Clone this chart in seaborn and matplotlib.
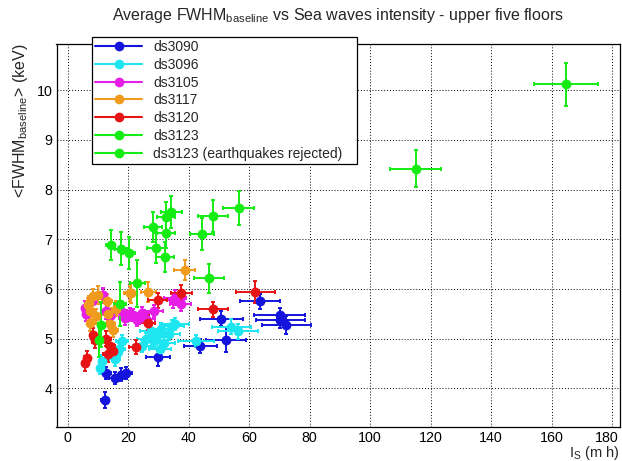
import numpy as np
import pandas as pd
import matplotlib
matplotlib.use("Agg")
import matplotlib.pyplot as plt
import matplotlib.transforms as mtransforms
from matplotlib.lines import Line2D
from matplotlib.ticker import MultipleLocator
import seaborn as sns

# ---------------- data ----------------
labels = ["ds3090", "ds3096", "ds3105", "ds3117", "ds3120", "ds3123",
          "ds3123 (earthquakes rejected)"]
colors = ["#1414dc", "#1ee6f0", "#e61ee6", "#f09a1e", "#e61414", "#14ec14", "#14ec14"]

ds3090_x = [12.2, 12.8, 15.5, 17.7, 19.4, 29.9, 43.9, 50.8, 52.3, 63.6, 70.1, 70.3, 72.3]
ds3090_y = [3.76, 4.30, 4.21, 4.27, 4.30, 4.63, 4.85, 5.40, 4.98, 5.75, 5.47, 5.37, 5.28]
ds3090_xerr = [1.2, 1.5, 1.8, 2.0, 2.0, 4.0, 5.5, 7.0, 6.7, 6.5, 8.5, 8.0, 8.0]
ds3090_yerr = [0.16, 0.12, 0.12, 0.13, 0.12, 0.18, 0.15, 0.15, 0.25, 0.15, 0.15, 0.15, 0.18]

ds3096_x = [10.8, 11.5, 15.5, 16.3, 16.8, 18.0, 24.5, 26.0, 27.5, 28.5, 29.5, 31.0,
            32.0, 33.5, 34.5, 30.5, 35.5, 42.5, 54.1, 56.3]
ds3096_y = [4.40, 4.55, 4.58, 4.70, 4.80, 4.95, 4.85, 5.00, 5.15, 4.95, 5.05, 5.20,
            4.92, 5.10, 5.25, 4.80, 5.30, 4.96, 5.24, 5.15]
ds3096_xerr = [1.2, 1.2, 1.8, 1.8, 2.0, 2.0, 3.0, 3.0, 3.5, 3.5, 3.5, 3.5,
               3.5, 3.5, 4.0, 3.5, 4.5, 6.0, 6.5, 6.5]
ds3096_yerr = [0.12, 0.12, 0.13, 0.13, 0.12, 0.12, 0.12, 0.12, 0.12, 0.12, 0.12, 0.12,
               0.12, 0.12, 0.12, 0.12, 0.12, 0.12, 0.15, 0.15]

ds3105_x = [5.6, 6.2, 8.0, 11.6, 12.5, 14.0, 17.5, 19.0, 20.5, 21.6, 23.0, 24.5,
            26.0, 28.5, 34.8, 37.4, 35.5]
ds3105_y = [5.61, 5.50, 5.75, 5.87, 5.55, 5.45, 5.55, 5.42, 5.50, 5.47, 5.38, 5.52,
            5.40, 5.55, 5.77, 5.70, 5.82]
ds3105_xerr = [0.8, 0.8, 1.0, 1.2, 1.3, 1.5, 2.0, 2.0, 2.0, 2.2, 2.5, 2.5,
               3.0, 3.0, 3.5, 3.5, 3.5]
ds3105_yerr = [0.15, 0.15, 0.15, 0.15, 0.15, 0.15, 0.15, 0.15, 0.12, 0.12, 0.12, 0.12,
               0.12, 0.12, 0.15, 0.15, 0.15]

ds3117_x = [6.7, 7.0, 7.3, 8.5, 10.0, 9.5, 13.3, 14.0, 15.0, 16.0, 20.7, 21.0,
            26.7, 38.7, 13.0, 7.5]
ds3117_y = [5.67, 5.71, 5.31, 5.85, 5.88, 5.45, 5.50, 5.30, 5.18, 5.60, 5.91, 5.92,
            5.93, 6.38, 5.75, 5.55]
ds3117_xerr = [0.8, 0.8, 0.8, 1.0, 1.2, 1.0, 1.5, 1.5, 1.5, 1.8, 2.0, 2.0,
               2.5, 3.5, 1.5, 0.8]
ds3117_yerr = [0.15, 0.15, 0.15, 0.15, 0.18, 0.15, 0.15, 0.15, 0.15, 0.15, 0.15, 0.2,
               0.2, 0.2, 0.15, 0.15]

ds3120_x = [5.6, 6.5, 8.4, 8.9, 12.8, 13.3, 15.0, 14.0, 22.7, 26.5, 29.7, 37.5, 48.0, 62.0]
ds3120_y = [4.50, 4.60, 5.07, 4.97, 5.00, 4.68, 4.75, 4.85, 4.83, 5.32, 5.77, 5.92, 5.59, 5.94]
ds3120_xerr = [0.8, 0.8, 1.0, 1.0, 1.5, 1.5, 1.5, 1.5, 2.5, 2.5, 3.0, 3.5, 5.0, 6.5]
ds3120_yerr = [0.15, 0.15, 0.15, 0.15, 0.15, 0.15, 0.15, 0.15, 0.15, 0.15, 0.15, 0.15, 0.15, 0.22]

ds3123_x = [14.2, 17.7, 20.2, 28.2, 29.3, 32.1, 32.4, 32.4, 34.3, 44.5, 46.6, 48.0,
            56.5, 115.0, 164.7]
ds3123_y = [6.88, 6.81, 6.73, 7.25, 6.83, 6.65, 7.12, 7.45, 7.55, 7.10, 6.21, 7.46,
            7.63, 8.42, 10.12]
ds3123_xerr = [1.5, 2.0, 2.0, 3.0, 3.0, 3.0, 3.0, 3.0, 3.5, 4.0, 5.0, 5.0,
               5.0, 8.3, 10.5]
ds3123_yerr = [0.30, 0.33, 0.32, 0.30, 0.30, 0.30, 0.30, 0.30, 0.32, 0.32, 0.30, 0.32,
               0.35, 0.37, 0.43]

ds3123r_x = [10.3, 10.9, 17.2, 23.0]
ds3123r_y = [4.97, 5.28, 5.69, 6.11]
ds3123r_xerr = [1.0, 1.0, 2.0, 2.5]
ds3123r_yerr = [0.35, 0.45, 0.44, 0.47]

series = [
    (ds3090_x, ds3090_y, ds3090_xerr, ds3090_yerr),
    (ds3096_x, ds3096_y, ds3096_xerr, ds3096_yerr),
    (ds3105_x, ds3105_y, ds3105_xerr, ds3105_yerr),
    (ds3117_x, ds3117_y, ds3117_xerr, ds3117_yerr),
    (ds3120_x, ds3120_y, ds3120_xerr, ds3120_yerr),
    (ds3123_x, ds3123_y, ds3123_xerr, ds3123_yerr),
    (ds3123r_x, ds3123r_y, ds3123r_xerr, ds3123r_yerr),
]

frames = []
for lab, (x, y, xe, ye) in zip(labels, series):
    frames.append(pd.DataFrame({"series": lab, "x": x, "y": y, "xerr": xe, "yerr": ye}))
df = pd.concat(frames, ignore_index=True)

# ---------------- style ----------------
sns.set_theme(style="white")
plt.rcParams["font.family"] = ["Liberation Sans", "DejaVu Sans"]
plt.rcParams["mathtext.fontset"] = "custom"
plt.rcParams["mathtext.rm"] = "Liberation Sans"
plt.rcParams["mathtext.it"] = "Liberation Sans:italic"
plt.rcParams["mathtext.bf"] = "Liberation Sans:bold"

W, H = 622, 461
fig = plt.figure(figsize=(W / 100, H / 100), dpi=100)
L, R, T, B = 56.5, 620, 44, 427
ax = fig.add_axes([L / W, 1 - B / H, (R - L) / W, (B - T) / H])

for lab, col in zip(labels, colors):
    d = df[df["series"] == lab]
    ax.errorbar(d["x"], d["y"], xerr=d["xerr"], yerr=d["yerr"], fmt="none",
                ecolor=col, elinewidth=1.4, capsize=1.4, capthick=1.4, zorder=3)
    sns.scatterplot(data=d, x="x", y="y", color=col, s=50, linewidth=0,
                    ax=ax, zorder=4, legend=False)

ax.set_xlim(-3.7, 182.6)
ax.set_ylim(3.22, 10.93)
ax.xaxis.set_major_locator(MultipleLocator(20))
ax.xaxis.set_minor_locator(MultipleLocator(5))
ax.yaxis.set_major_locator(MultipleLocator(1))
ax.yaxis.set_minor_locator(MultipleLocator(0.2))

ax.grid(True, which="major", color="black", linestyle=(0, (1, 2)), linewidth=0.7)
ax.set_axisbelow(True)
for sp in ax.spines.values():
    sp.set_visible(True)
    sp.set_color("black")
    sp.set_linewidth(0.9)

ax.tick_params(which="both", direction="in", top=False, right=False,
               colors="black", width=0.8, labelsize=10.3, pad=3)
ax.tick_params(axis="x", which="major", length=10.5)
ax.tick_params(axis="x", which="minor", length=5)
ax.tick_params(axis="y", which="major", length=11.5)
ax.tick_params(axis="y", which="minor", length=5.8)

# keep the last x tick label inside the canvas
fig.canvas.draw()
xt = ax.get_xticklabels()
for t in xt:
    if t.get_text() == "180":
        t.set_transform(t.get_transform() +
                        mtransforms.ScaledTranslation(-4 / 72, 0, fig.dpi_scale_trans))

ax.set_xlabel(r"I$_{\mathrm{S}}$ (m h)", fontsize=10.5, loc="right")
ax.xaxis.set_label_coords(1.0, -0.045)
ax.set_ylabel(r"<FWHM$_{\mathrm{baseline}}$> (keV)", fontsize=11.5, loc="top")
ax.yaxis.set_label_coords(-0.047, 1.0)

fig.text(338 / W, 1 - 20 / H,
         r"Average FWHM$_{\mathrm{baseline}}$ vs Sea waves intensity - upper five floors",
         ha="center", va="baseline", fontsize=11.5)

handles = [Line2D([], [], color=c, marker="o", markersize=7, linewidth=1.5,
                  markeredgewidth=0) for c in colors]
leg = ax.legend(handles, labels, loc="upper left",
                bbox_to_anchor=(92 / W, 1 - 163 / H, 265 / W, 126 / H),
                bbox_transform=fig.transFigure, mode="expand",
                borderaxespad=0, fontsize=10, frameon=True, fancybox=False,
                framealpha=1, edgecolor="black", handlelength=3.4,
                handletextpad=0.8, labelspacing=0.27, borderpad=0.22)
leg.get_frame().set_linewidth(0.9)
leg.set_zorder(10)

fig.savefig("out.png", dpi=100)
